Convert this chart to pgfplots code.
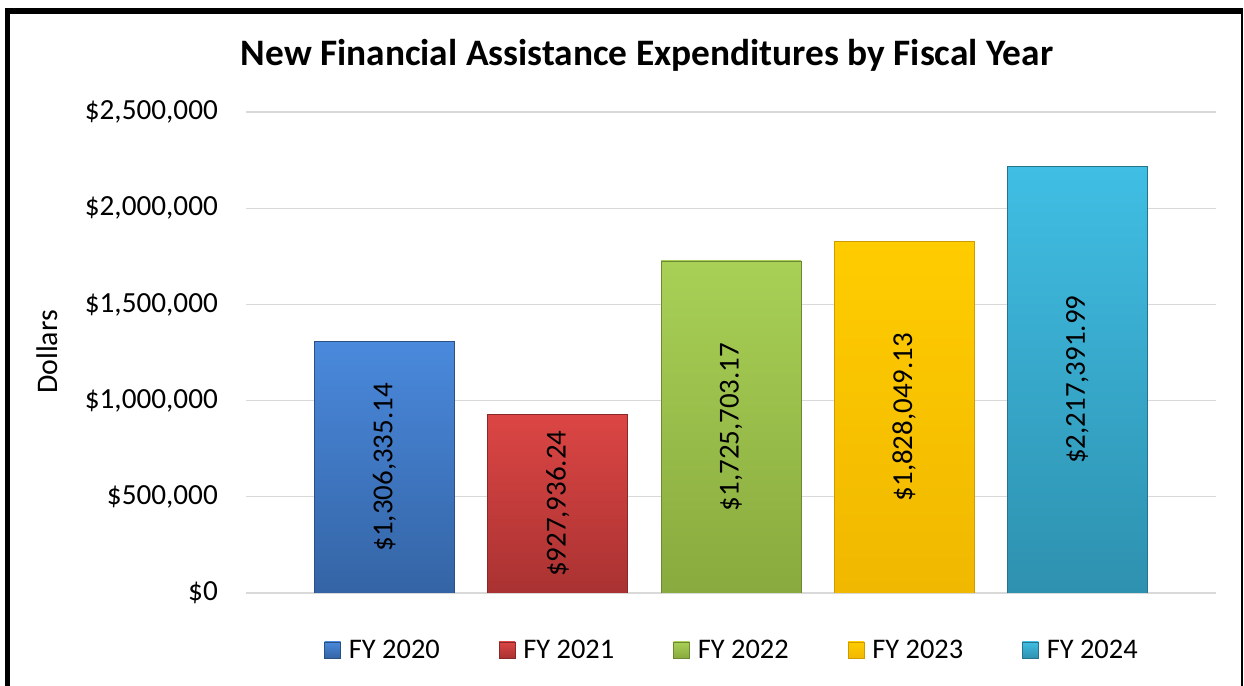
\documentclass[border=0pt]{standalone}
\usepackage{fontspec}
\setmainfont{Carlito}
\usepackage{pgfplots}
\pgfplotsset{compat=1.18}
\definecolor{bluetop}{HTML}{4A89DC}\definecolor{bluebot}{HTML}{3464A5}
\definecolor{redtop}{HTML}{DB4644}\definecolor{redbot}{HTML}{AA3232}
\definecolor{greentop}{HTML}{A8D056}\definecolor{greenbot}{HTML}{89AA3E}
\definecolor{yellowtop}{HTML}{FFCC00}\definecolor{yellowbot}{HTML}{F0B800}
\definecolor{cyantop}{HTML}{40BEE4}\definecolor{cyanbot}{HTML}{2E91AF}
\definecolor{gridgray}{HTML}{D9D9D9}
\begin{document}
\begin{tikzpicture}
\path[use as bounding box] (0,0) rectangle (1244bp,686bp);
\draw[line width=5.5bp] (7.5bp,-20bp) -- (7.5bp,675bp) -- (1243bp,675bp);
\draw[line width=2.5bp] (1242.2bp,675bp) -- (1242.2bp,-20bp);
\node[font=\fontsize{37.5}{42}\selectfont\bfseries] at (647bp,631bp) {New Financial Assistance Expenditures by Fiscal Year};
\node[font=\fontsize{30}{34}\selectfont, rotate=90] at (47bp,334bp) {Dollars};
\begin{axis}[
  at={(246bp,93bp)}, anchor=south west,
  scale only axis, width=970bp, height=481bp,
  xmin=-0.8, xmax=4.8, ymin=0, ymax=2500000,
  scaled y ticks=false,
  axis line style={draw=none},
  major tick length=0pt,
  xtick=\empty,
  ytick={0,500000,1000000,1500000,2000000,2500000},
  yticklabels={\$0,{\$500,000},{\$1,000,000},{\$1,500,000},{\$2,000,000},{\$2,500,000}},
  yticklabel style={font=\fontsize{29.3}{32}\selectfont, inner sep=0pt, xshift=-28bp},
  ymajorgrids, grid style={gridgray, line width=1.3bp},
  bar width=140bp,
  legend columns=5,
  legend style={draw=none, fill=none, at={(0.5,-0.1185)}, anchor=center,
    font=\fontsize{28.5}{31}\selectfont, nodes={inner sep=0pt},
    /tikz/every odd column/.append style={column sep=8bp},
    /tikz/every even column/.append style={column sep=59bp}},
  legend image code/.code={\path[#1] (0bp,-8bp) rectangle (16bp,8bp);},
]
\addplot[ybar, bar shift=0pt, top color=bluetop, bottom color=bluebot, draw=bluebot!80!black, line width=0.6bp] coordinates {(0,1306335.14)};
\addlegendentry{FY 2020}
\addplot[ybar, bar shift=0pt, top color=redtop, bottom color=redbot, draw=redbot!80!black, line width=0.6bp] coordinates {(1,927936.24)};
\addlegendentry{FY 2021}
\addplot[ybar, bar shift=0pt, top color=greentop, bottom color=greenbot, draw=greenbot!80!black, line width=0.6bp] coordinates {(2,1725703.17)};
\addlegendentry{FY 2022}
\addplot[ybar, bar shift=0pt, top color=yellowtop, bottom color=yellowbot, draw=yellowbot!85!black, line width=0.6bp] coordinates {(3,1828049.13)};
\addlegendentry{FY 2023}
\addplot[ybar, bar shift=0pt, top color=cyantop, bottom color=cyanbot, draw=cyanbot!80!black, line width=0.6bp] coordinates {(4,2217391.99)};
\addlegendentry{FY 2024}
\addplot[forget plot, draw=none, mark=none, point meta=explicit symbolic, nodes near coords,
  every node near coord/.style={rotate=90, anchor=center, inner sep=0pt, font=\fontsize{29}{31}\selectfont, text=black}]
  coordinates {(0,653167.57) [\$1,306,335.14] (1,463968.12) [\$927,936.24] (2,862851.59) [\$1,725,703.17] (3,914024.57) [\$1,828,049.13] (4,1108696.00) [\$2,217,391.99]};
\end{axis}
\end{tikzpicture}
\end{document}
